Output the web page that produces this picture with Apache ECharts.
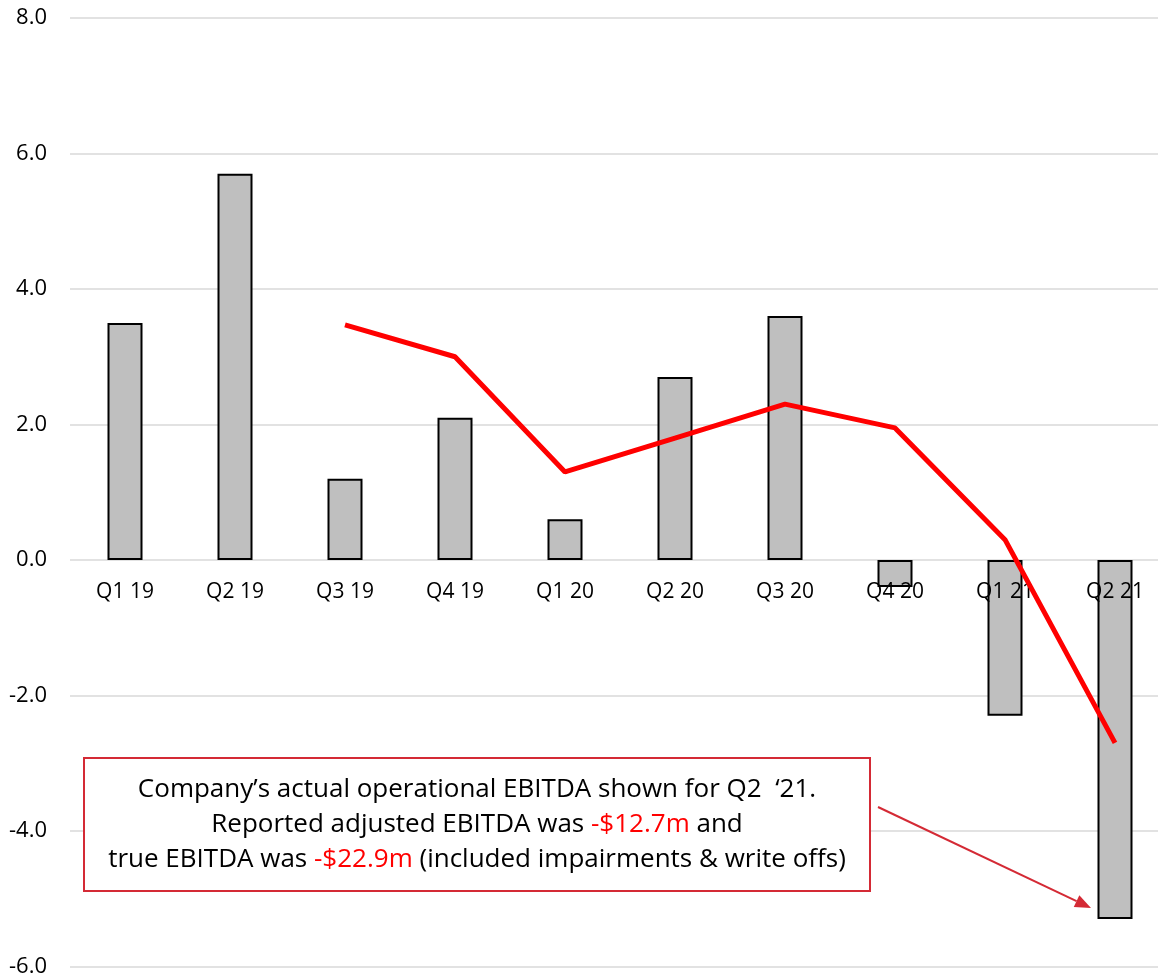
<!DOCTYPE html>
<html>
<head>
<meta charset="utf-8">
<script src="https://cdn.jsdelivr.net/npm/echarts@6/dist/echarts.min.js"></script>
<style>
  html, body { margin: 0; padding: 0; background: #fff; }
  #chart { width: 1158px; height: 973px; }
</style>
</head>
<body>
<div id="chart"></div>
<script>
// Quarterly EBITDA ($m) with a red trend line from Q3 19 onward
const quarters = ['Q1 19', 'Q2 19', 'Q3 19', 'Q4 19', 'Q1 20', 'Q2 20', 'Q3 20', 'Q4 20', 'Q1 21', 'Q2 21'];
const ebitda = [3.5, 5.7, 1.2, 2.1, 0.6, 2.7, 3.6, -0.4, -2.3, -5.3];
const trend = [null, null, 3.47, 3.0, 1.3, 1.8, 2.3, 1.95, 0.3, -2.7];
const yTicks = { min: -6, max: 8, interval: 2 };

const FONT = '"Open Sans", Lato, sans-serif';

// Category labels sit on the zero line, so they are placed at value 0
const zeroLabels = quarters.map(q => [q, 0]);

const chart = echarts.init(document.getElementById('chart'), null, { renderer: 'canvas' });

chart.setOption({
  animation: false,
  backgroundColor: '#ffffff',
  grid: { left: 70, right: -12, top: 18, bottom: 6.5, containLabel: false, outerBoundsMode: 'none' },
  xAxis: {
    type: 'category',
    data: quarters,
    axisLine: { show: false },
    axisTick: { show: false },
    axisLabel: { show: false },
    splitLine: { show: false }
  },
  yAxis: {
    type: 'value',
    min: yTicks.min,
    max: yTicks.max,
    interval: yTicks.interval,
    axisLine: { show: false },
    axisTick: { show: false },
    axisLabel: {
      color: '#000', fontSize: 22, fontFamily: FONT, margin: 23,
      formatter: v => v.toFixed(1)
    },
    splitLine: { lineStyle: { color: '#d9d9d9', width: 1.5 } }
  },
  series: [
    {
      type: 'bar',
      data: ebitda,
      barWidth: 35,
      z: 2,
      itemStyle: { color: '#bfbfbf', borderColor: '#000', borderWidth: 2 }
    },
    {
      type: 'scatter',
      data: zeroLabels,
      z: 10,
      symbolSize: 1,
      itemStyle: { color: 'rgba(0,0,0,0)', opacity: 1 },
      silent: true,
      emphasis: { disabled: true },
      label: {
        show: true,
        position: 'bottom',
        distance: 21,
        formatter: p => p.value[0],
        color: '#000000',
        opacity: 1,
        textBorderWidth: 0,
        fontSize: 21,
        fontFamily: FONT
      }
    },
    {
      type: 'line',
      data: trend,
      z: 20,
      symbol: 'none',
      connectNulls: false,
      lineStyle: { color: '#ff0000', width: 5 }
    }
  ]
});

// Callout box with an arrow pointing at the Q2 21 bar
const tip = chart.convertToPixel({ seriesIndex: 0 }, ['Q2 21', -5.3]);
const arrowEnd = [tip[0] - 24, tip[1] - 11];
const arrowStart = [878, 807];
const ang = Math.atan2(arrowEnd[1] - arrowStart[1], arrowEnd[0] - arrowStart[0]);
const headLen = 16, headW = 6.5;
const bx = arrowEnd[0] - headLen * Math.cos(ang), by = arrowEnd[1] - headLen * Math.sin(ang);
const px = -Math.sin(ang) * headW, py = Math.cos(ang) * headW;

chart.setOption({
  graphic: [
    {
      type: 'rect',
      shape: { x: 84, y: 758, width: 786, height: 133 },
      style: { fill: '#ffffff', stroke: '#d42a35', lineWidth: 2 },
      z: 100
    },
    {
      type: 'text',
      x: 477, y: 825,
      z: 101,
      style: {
        text: 'Company’s actual operational EBITDA shown for Q2  ‘21.\nReported adjusted EBITDA was {r|-$12.7m} and\ntrue EBITDA was {r|-$22.9m} (included impairments & write offs)',
        align: 'center',
        verticalAlign: 'middle',
        fontSize: 26,
        fontFamily: FONT,
        lineHeight: 35,
        fill: '#000',
        rich: { r: { fill: '#ff0000', fontSize: 26, fontFamily: FONT, lineHeight: 35 } }
      }
    },
    {
      type: 'line',
      shape: { x1: arrowStart[0], y1: arrowStart[1], x2: bx, y2: by },
      style: { stroke: '#d42a35', lineWidth: 2 },
      z: 100
    },
    {
      type: 'polygon',
      shape: { points: [arrowEnd, [bx + px, by + py], [bx - px, by - py]] },
      style: { fill: '#d42a35' },
      z: 100
    }
  ]
});
</script>
</body>
</html>
